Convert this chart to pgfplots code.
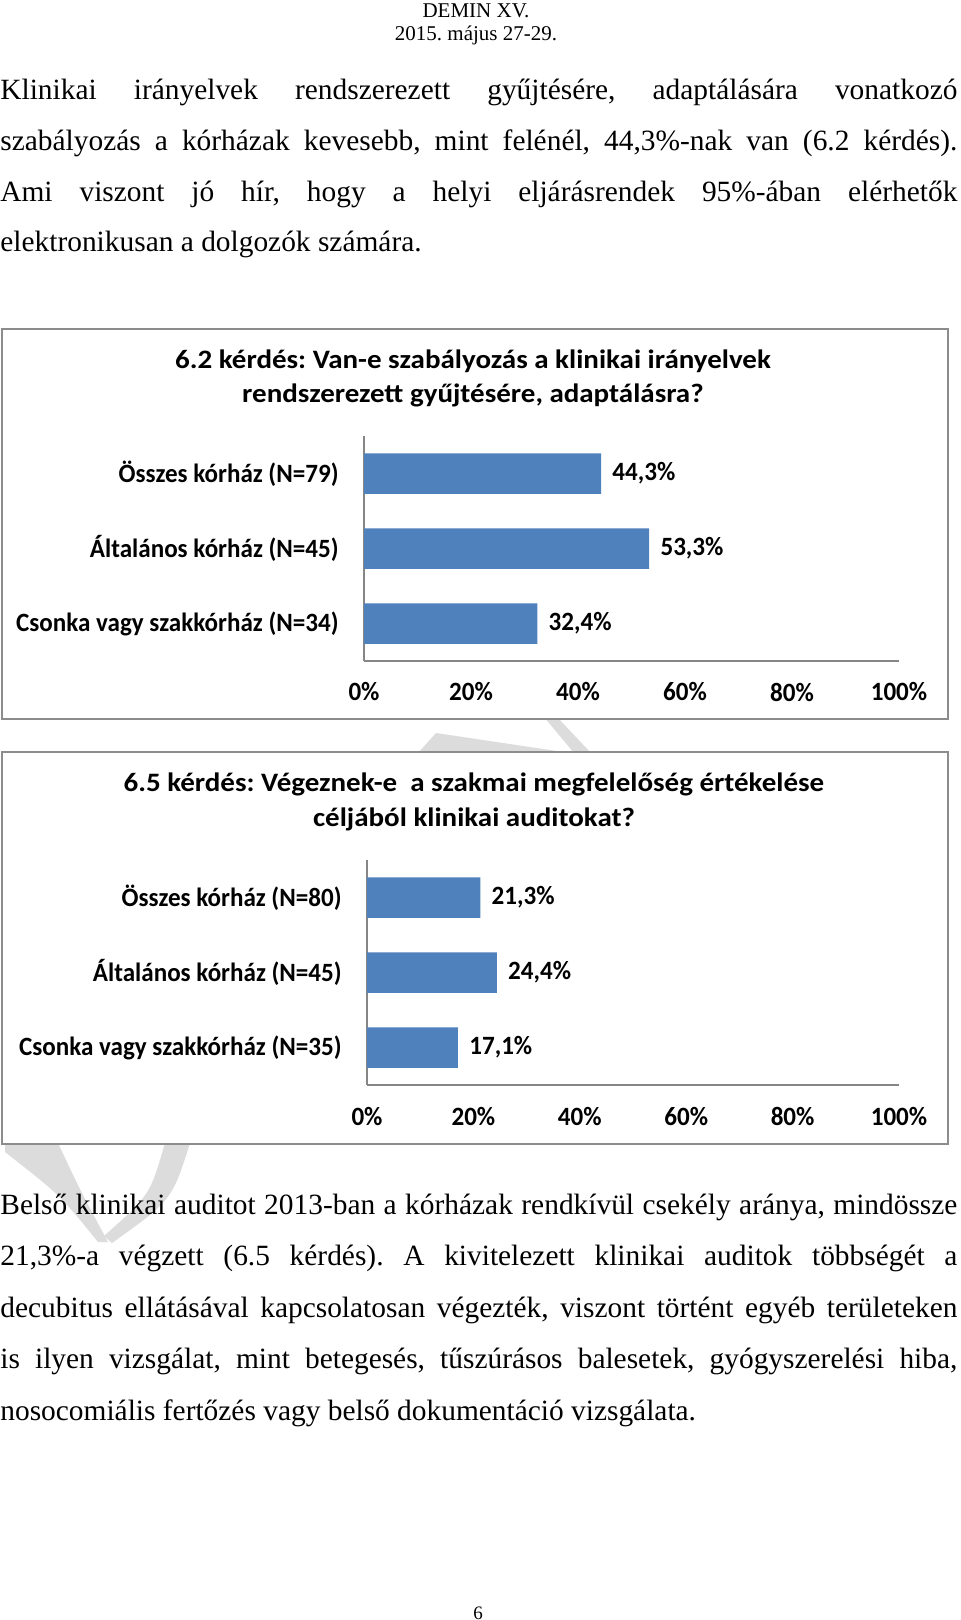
\documentclass[border=0pt]{standalone}
\usepackage{fontspec}
\setmainfont{Liberation Serif}
\newfontfamily\carlito{Carlito}[FakeStretch=0.95]
\newfontfamily\carlitoT{Carlito}[FakeStretch=1.09]
\usepackage{pgfplots}
\pgfplotsset{compat=1.18}
\frenchspacing
\definecolor{barblue}{RGB}{79,129,189}
\definecolor{framegray}{RGB}{140,140,140}
\definecolor{axisgray}{RGB}{134,134,134}
\definecolor{wm}{RGB}{220,220,220}
\newcommand{\bodyf}{\fontsize{14.7}{17}\selectfont}
\newcommand{\chartf}{\carlito\bfseries\fontsize{13.2}{15}\selectfont}
\newcommand{\titlef}{\carlitoT\bfseries\fontsize{13.3}{15}\selectfont}
\newcommand{\jline}[1]{\makebox[478.5pt][s]{#1}}
\pgfplotsset{
  hbar/.style={
    scale only axis, xmin=0, xmax=100, ymin=0.5, ymax=3.5,
    xbar, bar width=20.25pt, bar shift=0pt,
    axis x line*=bottom, axis y line*=left,
    axis line style={axisgray, line width=0.7pt, -},
    xtick={0,20,40,60,80,100}, xticklabels={0\%,20\%,40\%,60\%,80\%,100\%},
    ytick={1,2,3}, major tick length=0pt,
    tick label style={font=\chartf, text=black},
    xticklabel style={anchor=center, inner sep=0pt, yshift=-15.5pt},
    yticklabel style={anchor=east, inner sep=0pt, xshift=-12.5pt},
    nodes near coords, point meta=explicit symbolic,
    nodes near coords style={anchor=west, inner sep=0pt, xshift=5.5pt, font=\chartf, text=black},
    clip=false,
  }
}
\begin{document}
\begin{tikzpicture}
\begin{scope}[x=0.5pt,y=-0.5pt]
\fill[white] (0,0) rectangle (960,1620);
% watermark
\fill[wm] (418,753) -- (436,733) -- (570,753) -- cycle;
\fill[wm] (544,717) -- (557,717) -- (591,753) -- (574,753) -- cycle;
\fill[wm] (5,1143) -- (58,1143) .. controls (80,1190) .. (108,1242) -- (98,1242) .. controls (60,1195) .. (5,1152) -- cycle;
\fill[wm] (165,1143) -- (190,1143) .. controls (172,1200) .. (112,1243) -- (104,1236) .. controls (150,1195) .. (165,1143) -- cycle;
% frames
\draw[framegray, line width=1pt, fill=white] (2,329) rectangle (948,719);
\draw[framegray, line width=1pt, fill=white] (2,752) rectangle (948,1144);
% header
\node[font=\fontsize{10.5}{12}\selectfont, anchor=base, inner sep=0pt] at (476,17.5) {DEMIN XV.};
\node[font=\fontsize{10.5}{12}\selectfont, anchor=base, inner sep=0pt] at (476,41) {2015. május 27-29.};
% body text top
\node[font=\bodyf, anchor=base west, inner sep=0pt] at (0,100) {\jline{Klinikai irányelvek rendszerezett gyűjtésére, adaptálására vonatkozó}};
\node[font=\bodyf, anchor=base west, inner sep=0pt] at (0,150.7) {\jline{szabályozás a kórházak kevesebb, mint felénél, 44,3\%-nak van (6.2 kérdés).}};
\node[font=\bodyf, anchor=base west, inner sep=0pt] at (0,201.4) {\jline{Ami viszont jó hír, hogy a helyi eljárásrendek 95\%-ában elérhetők}};
\node[font=\bodyf, anchor=base west, inner sep=0pt] at (0,252) {elektronikusan a dolgozók számára.};
% body text bottom
\node[font=\bodyf, anchor=base west, inner sep=0pt] at (0,1214) {\jline{Belső klinikai auditot 2013-ban a kórházak rendkívül csekély aránya, mindössze}};
\node[font=\bodyf, anchor=base west, inner sep=0pt] at (0,1265.5) {\jline{21,3\%-a végzett (6.5 kérdés). A kivitelezett klinikai auditok többségét a}};
\node[font=\bodyf, anchor=base west, inner sep=0pt] at (0,1317) {\jline{decubitus ellátásával kapcsolatosan végezték, viszont történt egyéb területeken}};
\node[font=\bodyf, anchor=base west, inner sep=0pt] at (0,1368.5) {\jline{is ilyen vizsgálat, mint betegesés, tűszúrásos balesetek, gyógyszerelési hiba,}};
\node[font=\bodyf, anchor=base west, inner sep=0pt] at (0,1420) {nosocomiális fertőzés vagy belső dokumentáció vizsgálata.};
% page number
\node[font=\fontsize{9.5}{11}\selectfont, anchor=base, inner sep=0pt] at (478,1619) {6};
% chart titles
\node[font=\titlef, anchor=base, inner sep=0pt] at (473,369) {6.2 kérdés: Van-e szabályozás a klinikai irányelvek};
\node[font=\titlef, anchor=base, inner sep=0pt] at (473,403) {rendszerezett gyűjtésére, adaptálásra?};
\node[font=\titlef, anchor=base, inner sep=0pt] at (474,791) {6.5 kérdés: Végeznek-e~ a szakmai megfelelőség értékelése};
\node[font=\titlef, anchor=base, inner sep=0pt] at (474,826) {céljából klinikai auditokat?};
\end{scope}
\begin{axis}[hbar, at={(182pt,-330.5pt)}, anchor=south west, width=267.5pt, height=112.5pt,
  yticklabels={Csonka vagy szakkórház (N=34), Általános kórház (N=45), Összes kórház (N=79)}]
\addplot[fill=barblue, draw=none] coordinates {(32.4,1) [32,4\%] (53.3,2) [53,3\%] (44.3,3) [44,3\%]};
\end{axis}
\begin{axis}[hbar, at={(183.5pt,-542.5pt)}, anchor=south west, width=266pt, height=112.5pt,
  yticklabels={Csonka vagy szakkórház (N=35), Általános kórház (N=45), Összes kórház (N=80)}]
\addplot[fill=barblue, draw=none] coordinates {(17.1,1) [17,1\%] (24.4,2) [24,4\%] (21.3,3) [21,3\%]};
\end{axis}
\end{tikzpicture}
\end{document}
